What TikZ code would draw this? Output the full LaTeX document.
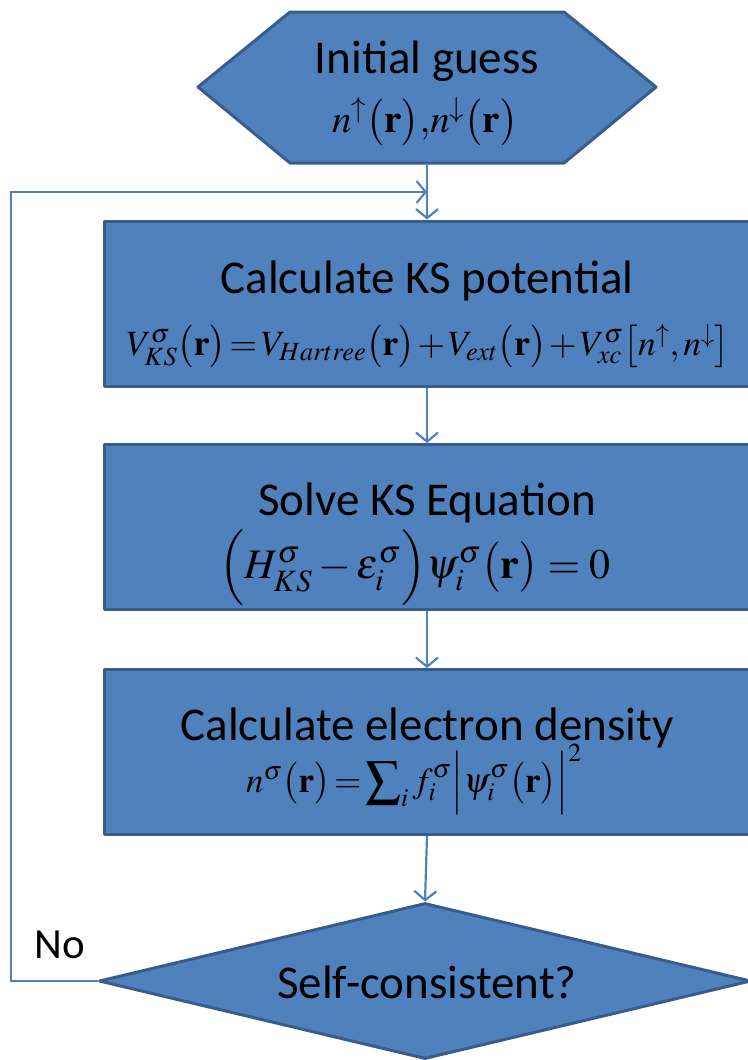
\documentclass[tikz,border=0pt]{standalone}
\usepackage{mathptmx}
\usepackage{fontspec}
\setmainfont{Carlito}
\usetikzlibrary{arrows.meta,shapes.geometric}
\definecolor{boxfill}{HTML}{4F81BD}
\definecolor{boxedge}{HTML}{385D8A}
\newcommand{\tightmath}{\thickmuskip=2mu \medmuskip=1.5mu}
\tikzset{
  shapeline/.style={draw=boxedge, fill=boxfill, line width=3pt, line join=round},
  stepbox/.style={shapeline, rectangle, minimum width=646pt, minimum height=165pt, inner sep=0pt},
  conn/.style={draw=boxfill, line width=2.2pt, -{Straight Barb[length=9pt,width=22pt,line width=2.2pt]}},
  ttl/.style={font=\fontsize{47}{50}\selectfont, inner sep=0pt, anchor=base},
  eqn/.style={inner sep=0pt, anchor=base},
}
\begin{document}
\begin{tikzpicture}[x=1pt,y=-1pt]
\useasboundingbox (0,0) rectangle (747,1060);
% initial guess hexagon
\draw[shapeline] (198,87) -- (290,12) -- (564,12) -- (656,87) -- (564,163) -- (290,163) -- cycle;
\node[minimum width=458pt, minimum height=151pt, inner sep=0pt] (init) at (427,87.5) {};
\node[ttl] (initT) at (427,73) {Initial guess};
\node[eqn, font=\fontsize{39}{41}\selectfont] (initE) at (425,132) {$n^{\uparrow}\bigl(\mathbf{r}\bigr){,}n^{\downarrow}\bigl(\mathbf{r}\bigr)$};
% boxes
\node[stepbox] (ks) at (427,303.5) {};
\node[ttl] (ksT) at (427,293) {Calculate KS potential};
\node[eqn, font=\fontsize{35.5}{38}\selectfont] (ksE) at (428,355) {$\tightmath V^{\sigma}_{KS}\bigl(\mathbf{r}\bigr) = V_{Hartree}\bigl(\mathbf{r}\bigr) + V_{ext}\bigl(\mathbf{r}\bigr) + V^{\sigma}_{xc}\bigl[n^{\uparrow}, n^{\downarrow}\bigr]$};
\node[stepbox] (solve) at (427,527) {};
\node[ttl] (solveT) at (427,515) {Solve KS Equation};
\node[eqn, font=\fontsize{42}{44}\selectfont] (solveE) at (415,578) {$\Bigl(H^{\sigma}_{KS} - \varepsilon^{\sigma}_{i}\Bigr)\psi^{\sigma}_{i}\bigl(\mathbf{r}\bigr) = 0$};
\node[stepbox] (dens) at (427,752) {};
\node[ttl] (densT) at (427,740) {Calculate electron density};
\node[eqn, font=\fontsize{35}{38}\selectfont] (densE) at (414,792) {$\tightmath n^{\sigma}\bigl(\mathbf{r}\bigr) = \displaystyle\sum\nolimits_{i} f^{\sigma}_{i} \Bigl|\psi^{\sigma}_{i}\bigl(\mathbf{r}\bigr)\Bigr|^{2}$};
% decision
\node[shapeline, diamond, minimum width=652pt, minimum height=156pt, inner sep=0pt] (sc) at (425,981) {};
\node[ttl] (scT) at (427,998) {Self-consistent?};
\node[ttl, font=\fontsize{43}{45}\selectfont] (no) at (60,958) {No};
% connectors
\coordinate (join) at (427,192);
\coordinate (loopL) at (11,981);
\draw[conn] (init.south) -- (init.south |- ks.north);
\draw[conn] (init.south |- ks.south) -- (init.south |- solve.north);
\draw[conn] (init.south |- solve.south) -- (init.south |- dens.north);
\draw[conn] (init.south |- dens.south) -- (sc.north);
\draw[conn] (sc.west) -- (loopL) |- (join);
\end{tikzpicture}
\end{document}
